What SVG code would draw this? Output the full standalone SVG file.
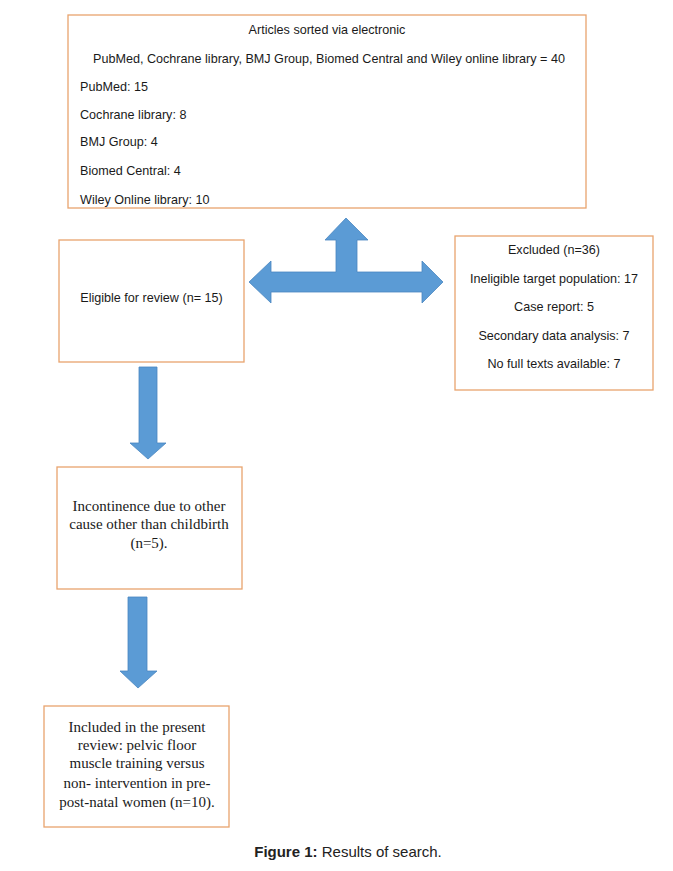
<svg xmlns="http://www.w3.org/2000/svg" width="673" height="871" viewBox="0 0 673 871">
<style>
.box{fill:#ffffff;stroke:#e9a46e;stroke-width:1.3}
.s{font-family:"Liberation Sans",Arial,sans-serif;font-size:12.6px;fill:#1a1a1a}
.t{font-family:"Liberation Serif","Times New Roman",serif;font-size:15px;fill:#1a1a1a}
.arr{fill:#5b9bd5;stroke:#4a86c0;stroke-width:0.8}
.c{text-anchor:middle}
</style>
<rect width="673" height="871" fill="#ffffff"/>
<g id="sources">
<rect class="box" x="68" y="15" width="518" height="193"/>
<text class="s c" x="327" y="34">Articles sorted via electronic</text>
<text class="s c" x="329" y="63">PubMed, Cochrane library, BMJ Group, Biomed Central and Wiley online library = 40</text>
<text class="s" x="80" y="91">PubMed: 15</text>
<text class="s" x="80" y="119">Cochrane library: 8</text>
<text class="s" x="80" y="146">BMJ Group: 4</text>
<text class="s" x="80" y="175">Biomed Central: 4</text>
<text class="s" x="80" y="204">Wiley Online library: 10</text>
</g>
<g id="eligible">
<rect class="box" x="59" y="240" width="185" height="122"/>
<text class="s c" x="151.5" y="302">Eligible for review (n= 15)</text>
</g>
<g id="excluded">
<rect class="box" x="455" y="236" width="198" height="154"/>
<text class="s c" x="554" y="254">Excluded (n=36)</text>
<text class="s c" x="554" y="283">Ineligible target population: 17</text>
<text class="s c" x="554" y="311">Case report: 5</text>
<text class="s c" x="554" y="340">Secondary data analysis: 7</text>
<text class="s c" x="554" y="368">No full texts available: 7</text>
</g>
<g id="other-cause">
<rect class="box" x="57" y="467" width="185" height="122"/>
<text class="t c" x="149" y="511">Incontinence due to other</text>
<text class="t c" x="149" y="529">cause other than childbirth</text>
<text class="t c" x="149" y="548">(n=5).</text>
</g>
<g id="included">
<rect class="box" x="44" y="706" width="185" height="121"/>
<text class="t c" x="137" y="732">Included in the present</text>
<text class="t c" x="137" y="750">review: pelvic floor</text>
<text class="t c" x="137" y="768">muscle training versus</text>
<text class="t c" x="137" y="788">non- intervention in pre-</text>
<text class="t c" x="137" y="807">post-natal women (n=10).</text>
</g>
<g id="connectors">
<path class="arr" d="M249,282 L271,261 L271,272 L336,272 L336,240 L325,240 L346,218 L368,240 L357,240 L357,272 L422,272 L422,261 L443,282 L422,303 L422,292 L271,292 L271,303 Z"/>
<path class="arr" d="M139,367 L157,367 L157,443 L166,443 L148,459 L130,443 L139,443 Z"/>
<path class="arr" d="M128,597 L147,597 L147,671 L157,671 L138,688 L120,671 L128,671 Z"/>
</g>
<g id="caption">
<text x="348" y="857" text-anchor="middle" font-family="Liberation Sans,Arial,sans-serif" font-size="15px" fill="#222"><tspan font-weight="bold">Figure 1:</tspan> Results of search.</text>
</g>
</svg>
